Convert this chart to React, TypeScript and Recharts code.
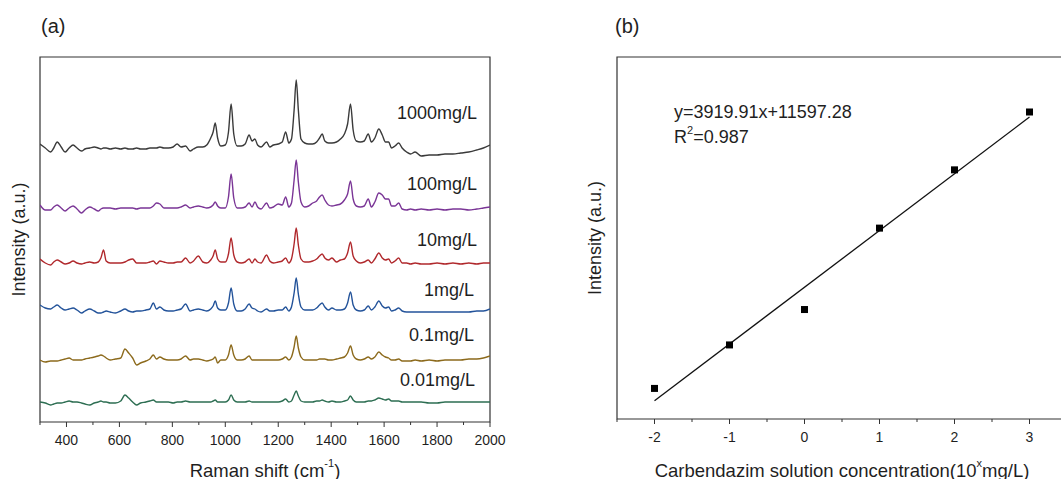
import {
  LineChart,
  Line,
  ComposedChart,
  Scatter,
  XAxis,
  YAxis,
  ReferenceArea,
} from "recharts";

// ===== shared style =====
const FONT = "'Liberation Sans', Arial, Helvetica, sans-serif";
const INK = "#1f1f1f";
const FRAME = "#333";

// ===== (a) SERS spectra, Raman shift in cm-1 =====
const ramanShift = [
  300, 320, 340, 352, 365, 380, 395, 410, 425, 440,
  457, 470, 488, 505, 520, 530, 540, 550, 565, 585,
  605, 621, 635, 650, 665, 680, 700, 715, 728, 740,
  753, 768, 785, 803, 818, 833, 850, 867, 880, 898,
  915, 930, 945, 954, 962, 971, 983, 1000, 1012, 1022,
  1032, 1045, 1060, 1075, 1090, 1101, 1112, 1122, 1135, 1156,
  1168, 1182, 1200, 1215, 1228, 1240, 1250, 1260, 1268, 1276,
  1286, 1300, 1315, 1330, 1345, 1356, 1366, 1376, 1390, 1403,
  1420, 1435, 1450, 1462, 1473, 1483, 1495, 1510, 1525, 1540,
  1552, 1565, 1580, 1593, 1605, 1617, 1628, 1641, 1655, 1668,
  1685, 1700, 1717, 1740, 1770, 1800, 1830, 1860, 1890, 1920,
  1950, 1975, 2000,
];

// intensities above each trace's own baseline (a.u.)
const spec1000 = [
  4, 0, -4, 0, 6, 1, -4, 0, 3, 0,
  -3, -1, 0, 1, 0, -1, 0, 0, -1, 0,
  -1, 0, -1, -1, 0, -1, -1, 0, 0, 0,
  1, 0, 0, 1, 4, 1, 2, -3, -1, 1,
  1, 3, 10, 16, 25, 10, 2, 3, 16, 44,
  14, 2, 2, 4, 13, 7, 9, 3, 1, 6,
  1, 3, 4, 6, 16, 5, 9, 38, 68, 38,
  9, 5, 4, 4, 6, 10, 14, 7, 5, 5,
  6, 9, 14, 24, 44, 18, 7, 6, 7, 14,
  6, 10, 19, 13, 6, 6, 0, 2, 5, 0,
  -4, -6, -4, -8, -7, -7, -6, -6, -5, -4,
  -2, 0, 3,
];
const spec100 = [
  3, -2, -2, 1, 3, 0, -3, 0, 2, -1,
  -5, -2, 1, -1, -3, -1, 0, 0, 0, -1,
  0, 0, 0, 0, -1, 0, 0, 0, 2, 5,
  4, 0, 0, 0, 0, 1, 3, 0, 1, 2,
  1, 0, 1, 3, 6, 2, 0, 0, 11, 34,
  10, 0, 0, 1, 5, 1, 6, 1, -1, 5,
  0, 1, 4, 3, 11, 1, 5, 28, 48, 26,
  6, 1, 2, 5, 7, 11, 13, 8, 3, 2,
  3, 4, 8, 14, 27, 9, 2, 1, 2, 9,
  1, 6, 15, 13, 9, 9, 2, 2, 5, -1,
  -2, -1, -2, -1, -2, -1, -2, -1, -1, -2,
  -1, 0, 1,
];
const spec10 = [
  4, 0, -2, 1, 3, 1, -1, 0, 2, 0,
  -1, 0, 1, 0, 1, 5, 13, 2, 0, 0,
  0, 1, 3, 4, 0, 0, 0, 1, 2, -1,
  2, 1, 0, 0, 1, 1, 5, 0, 2, 7,
  1, 0, 3, 7, 13, 4, 1, 1, 9, 25,
  8, 1, 0, 1, 4, 0, 4, 1, 0, 8,
  2, 0, 1, 2, 5, 0, 4, 19, 35, 18,
  4, 1, 1, 2, 4, 7, 9, 5, 3, 5,
  1, 3, 4, 10, 21, 7, 2, 0, 1, 3,
  0, 4, 10, 5, 3, 4, 0, 2, 5, 0,
  0, -1, 0, -1, -1, 0, -1, 0, -1, 0,
  -1, 0, 0,
];
const spec1 = [
  6, 3, 2, 4, 6, 3, 1, 2, 3, 1,
  -2, 0, 2, 0, -2, -2, -1, 0, -1, -2,
  0, 2, 0, -1, 0, 0, 1, 2, 8, 2,
  4, 1, 0, 0, 1, 2, 7, 0, 1, 2,
  1, 0, 2, 5, 10, 3, 1, 1, 8, 23,
  7, 0, 0, 2, 7, 3, 2, 0, -1, 2,
  0, 0, 1, 1, 4, 0, 4, 18, 33, 17,
  4, 1, 1, 1, 3, 6, 8, 4, 1, 3,
  1, 1, 2, 8, 19, 6, 1, 0, 1, 5,
  1, 4, 10, 5, 3, 4, 0, 1, 3, 0,
  -1, -1, -1, -1, -1, -1, -1, -1, -1, -1,
  0, 0, 2,
];
const spec01 = [
  0, -2, -1, -1, -1, 0, 1, 2, 0, 0,
  0, 1, 2, 3, 4, 5, 4, 2, 0, 1,
  2, 11, 7, 2, -5, -3, -1, 1, 5, 1,
  3, 1, 0, 0, 0, 1, 4, 0, 1, 1,
  0, -1, 0, 1, 3, -3, 0, 0, 5, 15,
  5, 0, 0, 1, 4, 0, 0, 0, 0, 0,
  0, 0, 0, 1, 3, 0, 3, 13, 24, 12,
  3, 0, 0, 0, 0, 1, 1, 1, 0, 0,
  1, 2, 3, 7, 14, 5, 1, 0, 1, 3,
  1, 3, 8, 5, 3, 2, 0, 0, 1, -1,
  -1, -1, 0, -1, 0, -1, 0, 0, 0, 1,
  1, 2, 4,
];
const spec001 = [
  0, -1, -3, -2, -1, -1, 0, 1, 0, 0,
  -1, -2, -3, -1, 0, 1, 0, 0, -1, -1,
  1, 7, 4, 0, -3, -1, 0, 1, 2, 0,
  0, 0, 0, -1, 0, 0, 1, 0, 0, 0,
  0, 0, 0, 1, 2, 0, 0, 0, 2, 7,
  2, 0, 0, 0, 1, 0, 0, 0, 0, 0,
  0, 0, 0, 1, 3, 0, 1, 7, 11, 6,
  1, 0, 0, 0, 1, 1, 2, 1, 0, 1,
  0, 0, 1, 2, 6, 2, 0, 0, 0, 1,
  1, 2, 4, 3, 2, 3, 1, 1, 1, 0,
  0, 0, 0, 0, -1, -1, 0, 0, 0, 0,
  0, 0, 0,
];

const spectra = [spec1000, spec100, spec10, spec1, spec01, spec001];
const concLabels = ["1000mg/L", "100mg/L", "10mg/L", "1mg/L", "0.1mg/L", "0.01mg/L"];
const specColors = ["#3a3a3a", "#7a3596", "#b0282c", "#23539a", "#8c6a1c", "#2d6e52"];
const stackOffset = [274, 214, 159, 111, 62, 20]; // vertical stacking of traces
const ramanTicks = [
  300, 400, 500, 600, 700, 800, 900, 1000, 1100, 1200,
  1300, 1400, 1500, 1600, 1700, 1800, 1900, 2000,
];

// ===== (b) calibration =====
const concExp = [-2, -1, 0, 1, 2, 3]; // log10 of mg/L
const peakIntensity = [4612, 7615, 10060, 15682, 19706, 23702];
const fitX = [-2, 3];
const fitY = [3757.46, 23357.01]; // y=3919.91x+11597.28 at the ends
const concTicks = [-2.5, -2, -1.5, -1, -0.5, 0, 0.5, 1, 1.5, 2, 2.5, 3, 3.5];

// ===== helpers =====
const rows = ramanShift.map((x, i) => {
  const r: Record<string, number> = { x };
  spectra.forEach((s, k) => {
    r[`s${k}`] = s[i] + stackOffset[k];
  });
  return r;
});

const points = concExp.map((x, i) => ({ x, y: peakIntensity[i] }));
const fitRows = fitX.map((x, i) => ({ x, y: fitY[i] }));

const renderTick = (p: any, major: boolean) => {
  const { x, y, payload } = p;
  return (
    <g>
      <line x1={x} x2={x} y1={y} y2={y + (major ? 5 : 3)} stroke={FRAME} strokeWidth={1} />
      {major && (
        <text
          x={x}
          y={y + 18}
          textAnchor="middle"
          dominantBaseline="central"
          fontSize={14}
          fontFamily={FONT}
          fill={INK}
        >
          {payload.value}
        </text>
      )}
    </g>
  );
};

const labelRightX = [477, 477, 477, 474, 474, 475];
const labelY = [113, 184, 240, 290, 335, 380];

export default function App() {
  return (
    <div
      style={{
        position: "fixed",
        left: 0,
        top: 0,
        width: 1061,
        height: 479,
        overflow: "hidden",
        background: "#fff",
        fontFamily: FONT,
      }}
    >
      {/* (a) */}
      <div style={{ position: "absolute", left: 0, top: 0 }}>
        <LineChart
          width={525}
          height={479}
          data={rows}
          margin={{ top: 57, right: 35, left: 0, bottom: 0 }}
        >
          <XAxis
            dataKey="x"
            type="number"
            domain={[300, 2000]}
            ticks={ramanTicks}
            interval={0}
            allowDataOverflow
            height={57}
            axisLine={false}
            tickLine={false}
            tickSize={0}
            tickMargin={0}
            tick={(p: any) => renderTick(p, p.payload.value % 200 === 0)}
            label={() => (
              <text
                x={265}
                y={470}
                textAnchor="middle"
                dominantBaseline="central"
                fontSize={18.5}
                fontFamily={FONT}
                fill={INK}
              >
                Raman shift (cm
                <tspan dy={-7} fontSize={11}>-1</tspan>
                <tspan dy={7}>)</tspan>
              </text>
            )}
          />
          <YAxis
            type="number"
            domain={[0, 365]}
            allowDataOverflow
            width={40}
            axisLine={false}
            tick={false}
            tickLine={false}
            label={() => (
              <text
                x={19}
                y={239.5}
                transform="rotate(-90 19 239.5)"
                textAnchor="middle"
                dominantBaseline="central"
                fontSize={18}
                fontFamily={FONT}
                fill={INK}
              >
                Intensity (a.u.)
              </text>
            )}
          />
          {spectra.map((_, k) => (
            <Line
              key={k}
              dataKey={`s${k}`}
              type="monotone"
              stroke={specColors[k]}
              strokeWidth={1.4}
              dot={false}
              activeDot={false}
              isAnimationActive={false}
            />
          ))}
          <ReferenceArea
            x1={300}
            x2={2000}
            y1={0}
            y2={365}
            fill="none"
            stroke={FRAME}
            strokeWidth={1.2}
          />
          {concLabels.map((t, k) => (
            <text
              key={t}
              x={labelRightX[k]}
              y={labelY[k]}
              textAnchor="end"
              dominantBaseline="central"
              fontSize={18}
              fontFamily={FONT}
              fill={INK}
            >
              {t}
            </text>
          ))}
          <text x={41} y={26} dominantBaseline="central" fontSize={20} fontFamily={FONT} fill={INK}>
            (a)
          </text>
        </LineChart>
      </div>

      {/* (b) */}
      <div style={{ position: "absolute", left: 530, top: 0 }}>
        <ComposedChart
          width={560}
          height={479}
          margin={{ top: 57, right: 23, left: 0, bottom: 0 }}
        >
          <XAxis
            dataKey="x"
            type="number"
            domain={[-2.5, 3.5]}
            ticks={concTicks}
            interval={0}
            allowDataOverflow
            height={60}
            axisLine={false}
            tickLine={false}
            tickSize={0}
            tickMargin={0}
            tick={(p: any) => renderTick(p, Number.isInteger(p.payload.value))}
            label={() => (
              <text
                x={312}
                y={470}
                textAnchor="middle"
                dominantBaseline="central"
                fontSize={18.5}
                fontFamily={FONT}
                fill={INK}
              >
                Carbendazim solution concentration(10
                <tspan dy={-7} fontSize={11}>x</tspan>
                <tspan dy={7}>mg/L)</tspan>
              </text>
            )}
          />
          <YAxis
            type="number"
            domain={[2500, 27500]}
            allowDataOverflow
            width={87}
            axisLine={false}
            tick={false}
            tickLine={false}
            label={() => (
              <text
                x={65}
                y={238}
                transform="rotate(-90 65 238)"
                textAnchor="middle"
                dominantBaseline="central"
                fontSize={18}
                fontFamily={FONT}
                fill={INK}
              >
                Intensity (a.u.)
              </text>
            )}
          />
          <Line
            data={fitRows}
            dataKey="y"
            type="linear"
            stroke="#111"
            strokeWidth={1.3}
            dot={false}
            activeDot={false}
            isAnimationActive={false}
          />
          <Scatter
            data={points}
            dataKey="y"
            fill="#000"
            isAnimationActive={false}
            shape={(p: any) => (
              <rect x={p.cx - 3.5} y={p.cy - 3.5} width={7} height={7} fill="#000" />
            )}
          />
          <ReferenceArea
            x1={-2.5}
            x2={3.5}
            y1={2500}
            y2={27500}
            fill="none"
            stroke={FRAME}
            strokeWidth={1.2}
          />
          <text x={144} y={112} dominantBaseline="central" fontSize={18} fontFamily={FONT} fill={INK}>
            y=3919.91x+11597.28
          </text>
          <text x={144} y={137} dominantBaseline="central" fontSize={18} fontFamily={FONT} fill={INK}>
            R<tspan dy={-7} fontSize={11}>2</tspan>
            <tspan dy={7}>=0.987</tspan>
          </text>
          <text x={85} y={26} dominantBaseline="central" fontSize={20} fontFamily={FONT} fill={INK}>
            (b)
          </text>
        </ComposedChart>
      </div>
    </div>
  );
}
